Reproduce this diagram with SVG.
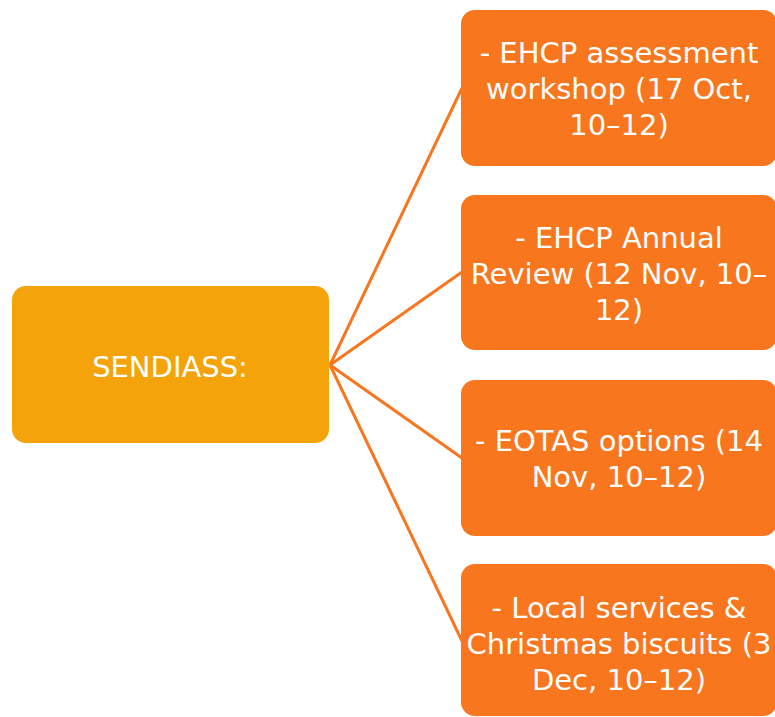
<svg xmlns="http://www.w3.org/2000/svg" width="775" height="717" viewBox="0 0 775 717">
<style>
.t{font-family:"DejaVu Sans","Liberation Sans",sans-serif;font-size:29px;fill:#ffffff;text-anchor:middle}
.r{fill:#F7761E}
.c{stroke:#F7761E;stroke-width:3;fill:none}
</style>
<rect width="775" height="717" fill="#ffffff"/>
<g id="connectors">
<line class="c" x1="330" y1="365" x2="462" y2="88"/>
<line class="c" x1="330" y1="365" x2="462" y2="272"/>
<line class="c" x1="330" y1="365" x2="462" y2="458"/>
<line class="c" x1="330" y1="365" x2="462" y2="641"/>
</g>
<g id="sendiass">
<rect x="12" y="286" width="317" height="157" rx="14" fill="#F4A40A"/>
<text class="t" x="170" y="377">SENDIASS:</text>
</g>
<g id="n1">
<rect class="r" x="461" y="10" width="316" height="156" rx="14"/>
<text class="t" x="619" y="63">- EHCP assessment</text>
<text class="t" x="619" y="99">workshop (17 Oct,</text>
<text class="t" x="619" y="135">10–12)</text>
</g>
<g id="n2">
<rect class="r" x="461" y="195" width="316" height="155" rx="14"/>
<text class="t" x="619" y="248">- EHCP Annual</text>
<text class="t" x="619" y="284">Review (12 Nov, 10–</text>
<text class="t" x="619" y="320">12)</text>
</g>
<g id="n3">
<rect class="r" x="461" y="380" width="316" height="156" rx="14"/>
<text class="t" x="619" y="451">- EOTAS options (14</text>
<text class="t" x="619" y="487">Nov, 10–12)</text>
</g>
<g id="n4">
<rect class="r" x="461" y="564" width="316" height="152" rx="14"/>
<text class="t" x="619" y="618">- Local services &amp;</text>
<text class="t" x="619" y="654">Christmas biscuits (3</text>
<text class="t" x="619" y="690">Dec, 10–12)</text>
</g>
</svg>
